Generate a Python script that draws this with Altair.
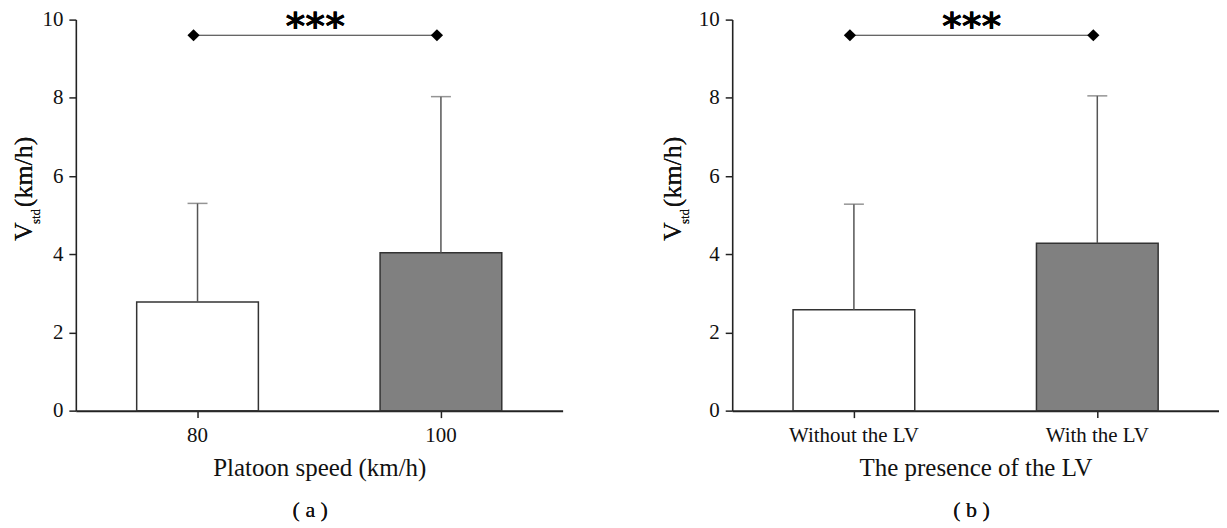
import altair as alt
import pandas as pd

# ---- data ----
cats_a = ["80", "100"]
means_a = [2.78, 4.04]
sds_a = [2.52, 3.99]

cats_b = ["Without the LV", "With the LV"]
means_b = [2.58, 4.28]
sds_b = [2.70, 3.77]

sig_level = 9.6
y_ticks = [0, 2, 4, 6, 8, 10]

SERIF = "Liberation Serif"
W, H = 488, 392


def panel(cats, means, sds, xtitle, caption, vdx, cap_x):
    df = pd.DataFrame({"cat": cats, "mean": means, "sd": sds})
    sig = pd.DataFrame({"cat": cats, "y": [sig_level] * len(cats)})

    x = alt.X(
        "cat:N",
        sort=cats,
        scale=alt.Scale(domain=cats, paddingInner=0.5, paddingOuter=0.25),
        axis=alt.Axis(
            title=xtitle,
            labelAngle=0,
            titleFont=SERIF,
            titleFontSize=25,
            titleFontWeight="normal",
            titleColor="#111",
            titlePadding=10,
            labelPadding=7,
            domainWidth=2,
        ),
    )
    y = alt.Y(
        "mean:Q",
        scale=alt.Scale(domain=[0, 10], nice=False),
        axis=alt.Axis(values=y_ticks, title=None, labelPadding=6, domainWidth=1.6),
    )

    base = alt.Chart(df).transform_calculate(upper="datum.mean + datum.sd")

    bars = base.mark_bar(stroke="#333", strokeWidth=1.5).encode(
        x=x,
        y=y,
        color=alt.Color(
            "cat:N",
            scale=alt.Scale(domain=cats, range=["#ffffff", "#808080"]),
            legend=None,
        ),
    )
    err = base.mark_rule(color="#555", strokeWidth=1.5).encode(
        x=alt.X("cat:N", sort=cats), y="mean:Q", y2="upper:Q"
    )
    cap = base.mark_tick(color="#666", size=20, thickness=1.5).encode(
        x=alt.X("cat:N", sort=cats), y="upper:Q"
    )

    sig_line = alt.Chart(sig).mark_line(color="#333", strokeWidth=1.2).encode(
        x=alt.X("cat:N", sort=cats), y="y:Q", xOffset=alt.value(57)
    )
    sig_pts = alt.Chart(sig).mark_point(
        shape="diamond", filled=True, color="black", size=150, opacity=1
    ).encode(x=alt.X("cat:N", sort=cats), y="y:Q", xOffset=alt.value(57))

    stars = alt.Chart(sig).mark_text(
        text="***", font="DejaVu Sans", fontWeight="bold", fontSize=38,
        baseline="alphabetic", align="center", dy=4,
    ).encode(x=alt.value(W / 2 - 4), y=alt.datum(sig_level))

    v_main = alt.Chart(sig).mark_text(
        text="V", font=SERIF, fontSize=26, angle=270, align="left",
        baseline="alphabetic", color="#111",
    ).encode(x=alt.value(vdx), y=alt.value(222))
    v_sub = alt.Chart(sig).mark_text(
        text="std", font=SERIF, fontSize=13, angle=270, align="left",
        baseline="alphabetic", color="#111",
    ).encode(x=alt.value(vdx + 8), y=alt.value(205))
    v_unit = alt.Chart(sig).mark_text(
        text="(km/h)", font=SERIF, fontSize=26, angle=270, align="left",
        baseline="alphabetic", color="#111",
    ).encode(x=alt.value(vdx), y=alt.value(188))

    capt = alt.Chart(sig).mark_text(
        text=caption, font=SERIF, fontSize=22, align="center",
        baseline="alphabetic", color="#111",
    ).encode(x=alt.value(cap_x), y=alt.value(H + 107))

    return alt.layer(
        bars, err, cap, sig_line, sig_pts, stars, v_main, v_sub, v_unit, capt
    ).properties(width=W, height=H)


left = panel(cats_a, means_a, sds_a, "Platoon speed (km/h)", "( a )", -44, 235)
right = panel(cats_b, means_b, sds_b, "The presence of the LV", "( b )", -51, 240)

chart = (
    alt.hconcat(left, right, spacing=98)
    .properties(padding={"left": 3, "top": 0, "right": 0, "bottom": 0})
    .configure_view(stroke=None)
    .configure_axis(
        grid=False,
        domainColor="#222",
        tickColor="#222",
        tickWidth=1.5,
        tickSize=7,
        labelFont=SERIF,
        labelFontSize=21,
        labelColor="#111",
    )
)

chart.save("out.html", embed_options={"renderer": "svg", "actions": False})
